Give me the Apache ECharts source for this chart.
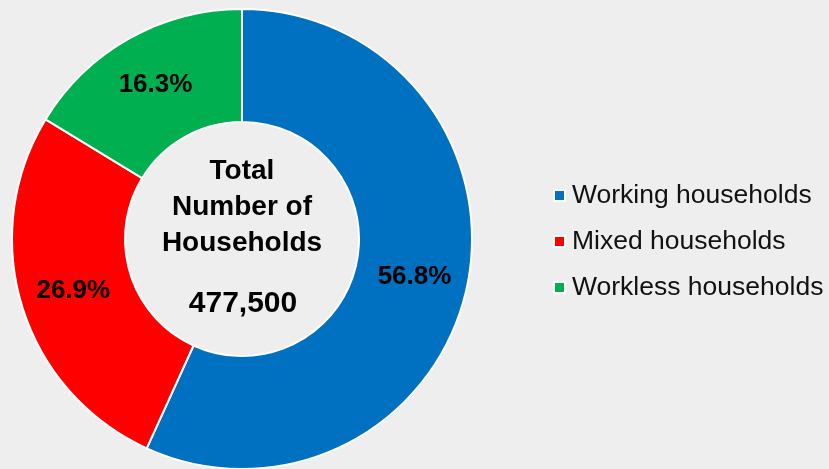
<!DOCTYPE html>
<html><head><meta charset="utf-8">
<script src="https://cdn.jsdelivr.net/npm/echarts@6/dist/echarts.min.js"></script>
<style>html,body{margin:0;padding:0;background:#eeeeee;}#c{width:829px;height:469px;}</style>
</head><body><div id="c"></div>
<script>
const categories = ['Working households', 'Mixed households', 'Workless households'];
const values = [56.8, 26.9, 16.3];
const colors = ['#0070C0', '#FF0000', '#00B050'];
const centerTitle = 'Total\nNumber of\nHouseholds';
const centerValue = '477,500';

const chart = echarts.init(document.getElementById('c'));
const FONT = '"Liberation Sans", Arial, sans-serif';
chart.setOption({
  backgroundColor: '#eeeeee',
  animation: false,
  color: colors,
  legend: {
    orient: 'vertical',
    left: 548,
    top: 177,
    icon: 'rect',
    itemWidth: 11,
    itemHeight: 11,
    itemGap: 19,
    itemStyle: { borderColor: '#ffffff', borderWidth: 2 },
    textStyle: { fontFamily: FONT, fontSize: 26.5, color: '#111111', padding: [0, 0, 0, 2] },
    data: categories
  },
  graphic: [
    { type: 'text', x: 242, y: 207, style: { text: centerTitle, font: 'bold 28px ' + FONT, fill: '#000', align: 'center', verticalAlign: 'middle', lineHeight: 36 } },
    { type: 'text', x: 243, y: 304, style: { text: centerValue, font: 'bold 30px ' + FONT, fill: '#000', align: 'center', verticalAlign: 'middle' } }
  ],
  series: [{
    type: 'pie',
    center: [242, 239],
    radius: [117, 230],
    startAngle: 90,
    clockwise: true,
    avoidLabelOverlap: false,
    itemStyle: { borderColor: '#ffffff', borderWidth: 2 },
    label: {
      show: true,
      position: 'inside',
      formatter: p => p.value.toFixed(1) + '%',
      fontFamily: FONT,
      fontSize: 26,
      fontWeight: 'bold',
      color: '#000'
    },
    labelLine: { show: false },
    emphasis: { disabled: true },
    data: categories.map((n, i) => ({ name: n, value: values[i] }))
  }]
});
</script></body></html>
